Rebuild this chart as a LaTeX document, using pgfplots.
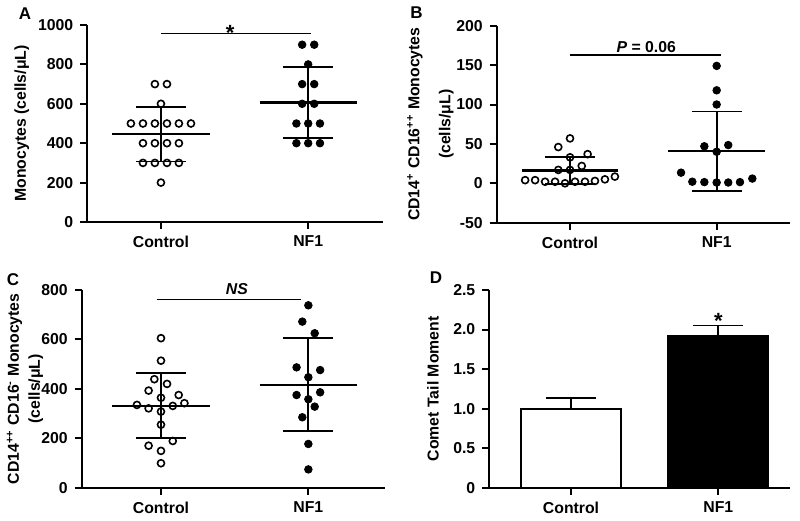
\documentclass[border=0pt]{standalone}
\usepackage{fontspec}
\setmainfont{Liberation Sans}
\usepackage{pgfplots}
\pgfplotsset{compat=1.18}

\newcommand{\fs}{\fontsize{7.9}{9.5}\selectfont\bfseries}
\newcommand{\starfs}{\fontsize{11}{12}\selectfont\bfseries}

\pgfplotsset{
  panel/.style={
    scale only axis,
    anchor=south west,
    axis lines=left,
    axis line style={-, line width=1pt},
    major tick style={black, line width=1pt},
    major tick length=3.5pt,
    tick align=outside,
    xtick={1,2},
    xticklabels={Control,NF1},
    tick label style={font=\fs},
    label style={font=\fs},
    /pgf/number format/assume math mode=true,
    /pgf/number format/1000 sep={},
    clip=false,
    ylabel style={rotate=0, anchor=center, align=center},
  },
  openpt/.style={only marks, mark=o, mark size=1.75pt, mark options={line width=0.8pt, draw=black}},
  filledpt/.style={only marks, mark=*, mark size=1.9pt, mark options={fill=black, draw=black}},
  meanln/.style={black, line width=1.3pt, no marks},
  sdln/.style={black, line width=0.9pt, no marks},
  sigln/.style={black, line width=0.7pt, no marks},
}

\begin{document}
\begin{tikzpicture}
\path (0,0) rectangle (400pt,259pt);

% ---------- A ----------
\begin{axis}[panel, at={(43.65pt,148pt)}, width=148pt, height=98.5pt,
  xmin=0.5, xmax=2.51, ymin=0, ymax=1000, ytick={0,200,...,1000},
  ylabel={Monocytes (cells/μL)},
  ylabel style={at={(axis description cs:-0.221,0.5)}}]
\addplot[meanln] coordinates {(0.67,447)(1.33,447)};
\addplot[sdln] coordinates {(1,307)(1,583)};
\addplot[sdln] coordinates {(0.83,583)(1.17,583)};
\addplot[sdln] coordinates {(0.83,307)(1.17,307)};
\addplot[meanln] coordinates {(1.67,608)(2.33,608)};
\addplot[sdln] coordinates {(2,428)(2,788)};
\addplot[sdln] coordinates {(1.83,788)(2.17,788)};
\addplot[sdln] coordinates {(1.83,428)(2.17,428)};
\addplot[openpt] coordinates {(0.959,700)(1.041,700)(1,600)
  (0.796,500)(0.878,500)(0.959,500)(1.041,500)(1.122,500)(1.204,500)
  (0.878,400)(0.959,400)(1.041,400)(1.122,400)
  (0.878,300)(0.959,300)(1.041,300)(1.122,300)(1,200)};
\addplot[filledpt] coordinates {(1.959,900)(2.041,900)(2,800)(1.959,700)(2.041,700)
  (1.959,600)(2.041,600)(1.92,500)(2,500)(2.08,500)(1.92,400)(2,400)(2.08,400)};
\addplot[sigln] coordinates {(1,958)(2.02,958)};
\node[font=\starfs] at (axis cs:1.47,962) {*};
\end{axis}

% ---------- B ----------
\begin{axis}[panel, at={(248.35pt,147.65pt)}, width=146.65pt, height=98.5pt,
  xmin=0.5, xmax=2.5, ymin=-50, ymax=200, ytick={-50,0,...,200},
  ylabel={CD14\textsuperscript{+} CD16\textsuperscript{++} Monocytes\\[6pt](cells/μL)},
  ylabel style={at={(axis description cs:-0.226,0.5)}}]
\addplot[meanln] coordinates {(0.67,16)(1.33,16)};
\addplot[sdln] coordinates {(1,-1)(1,33)};
\addplot[sdln] coordinates {(0.83,33)(1.17,33)};
\addplot[sdln] coordinates {(0.83,-1)(1.17,-1)};
\addplot[meanln] coordinates {(1.67,41)(2.33,41)};
\addplot[sdln] coordinates {(2,-10)(2,91)};
\addplot[sdln] coordinates {(1.83,91)(2.17,91)};
\addplot[sdln] coordinates {(1.83,-10)(2.17,-10)};
\addplot[openpt] coordinates {(0.694,4)(0.762,4)(0.83,2)(0.898,2)(0.966,0)
  (1.034,2)(1.102,2)(1.17,3)(1.238,5)(1.306,8.5)
  (1,57)(0.92,46)(1.12,37)(1,33)(1.08,22)(0.92,17)(1,17)};
\addplot[filledpt] coordinates {(2,149)(2,118)(2,100)(1.916,47)(2.079,48.5)(2,40)
  (1.757,13.5)(1.834,2)(1.916,1.5)(2,1)(2.079,1)(2.159,1.5)(2.243,6)};
\addplot[sigln] coordinates {(1,163)(2.03,163)};
\node[font=\fs] at (axis cs:1.52,172.5) {\textit{P} = 0.06};
\end{axis}

% ---------- C ----------
\begin{axis}[panel, at={(40.85pt,15.15pt)}, width=151.65pt, height=98.85pt,
  xmin=0.462, xmax=2.52, ymin=0, ymax=800, ytick={0,200,...,800},
  ylabel={CD14\textsuperscript{++} CD16\textsuperscript{-} Monocytes\\[1pt](cells/μL)},
  ylabel style={at={(axis description cs:-0.187,0.5)}}]
\addplot[meanln] coordinates {(0.67,331)(1.33,331)};
\addplot[sdln] coordinates {(1,200)(1,463)};
\addplot[sdln] coordinates {(0.83,463)(1.17,463)};
\addplot[sdln] coordinates {(0.83,200)(1.17,200)};
\addplot[meanln] coordinates {(1.67,416)(2.33,416)};
\addplot[sdln] coordinates {(2,229)(2,607)};
\addplot[sdln] coordinates {(1.83,607)(2.17,607)};
\addplot[sdln] coordinates {(1.83,229)(2.17,229)};
\addplot[openpt] coordinates {(1,605)(1,514)(0.955,439)(1.041,420)(0.916,393)
  (1.12,375)(1,364)(0.837,335)(0.916,321)(1.08,331)(1.159,342)(1,308)
  (1,255)(1.08,189)(0.916,170)(1,149)(1,99)};
\addplot[filledpt] coordinates {(2,738)(1.959,672)(2.043,625)(1.92,487)(2.08,476)
  (2,447)(1.92,375)(2.08,386)(2,358)(2.043,328)(1.959,285)(2,177)(2,74)};
\addplot[sigln] coordinates {(0.97,762)(1.95,762)};
\node[font=\fs] at (axis cs:1.515,802) {\textit{NS}};
\end{axis}

% ---------- D ----------
\begin{axis}[panel, at={(244.65pt,15.15pt)}, width=150.35pt, height=98.85pt,
  xmin=0.445, xmax=2.487, ymin=0, ymax=2.5, ytick={0,0.5,...,2.5},
  yticklabels={0,0.5,1.0,1.5,2.0,2.5},
  ylabel={Comet Tail Moment},
  ylabel style={at={(axis description cs:-0.187,0.5)}}]
% error bars (mean + SEM)
\addplot[sdln] coordinates {(1,1.0)(1,1.13)};
\addplot[sdln] coordinates {(0.83,1.13)(1.17,1.13)};
\addplot[sdln] coordinates {(2,1.92)(2,2.05)};
\addplot[sdln] coordinates {(1.83,2.05)(2.17,2.05)};
\addplot[ybar, bar shift=0pt, bar width=50pt, fill=white, draw=black, line width=1pt]
  coordinates {(1,1.0)};
\addplot[ybar, bar shift=0pt, bar width=50pt, fill=black, draw=black, line width=1pt]
  coordinates {(2,1.92)};
\node[font=\starfs] at (axis cs:2,2.11) {*};
\end{axis}

\node[font=\fontsize{8.5}{9}\selectfont\bfseries] at (12.5pt,252pt) {A};
\node[font=\fontsize{8.5}{9}\selectfont\bfseries] at (208.3pt,252.5pt) {B};
\node[font=\fontsize{8.5}{9}\selectfont\bfseries] at (6.5pt,119pt) {C};
\node[font=\fontsize{8.5}{9}\selectfont\bfseries] at (218pt,120pt) {D};
\end{tikzpicture}
\end{document}
